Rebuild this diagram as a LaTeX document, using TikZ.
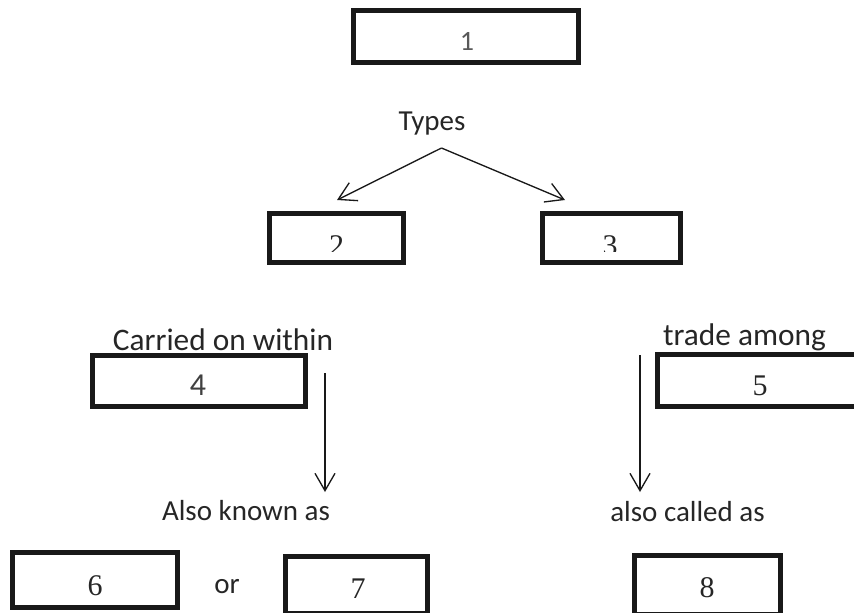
\documentclass[tikz,border=0pt]{standalone}
\usepackage{fontspec}
\setmainfont{Carlito}
\newfontfamily\serifnum{Liberation Serif}
\usetikzlibrary{arrows.meta}
\tikzset{
  box/.style={draw=black!90, line width=3.75pt, rectangle, inner sep=0pt},
  lbl/.style={anchor=base, inner sep=0pt, text=black!85, font=\fontsize{21.75}{24}\selectfont},
  toplbl/.style={lbl, font=\fontsize{23.5}{26}\selectfont},
  dig/.style={anchor=base, inner sep=0pt, text=black!85, font=\serifnum\fontsize{22.5}{24}\selectfont},
  sdig/.style={anchor=base, inner sep=0pt, text=black!75, font=\fontsize{24}{26}\selectfont},
  arr/.style={line width=1pt, draw=black!90, -{Straight Barb[length=13pt,width=15pt,line width=1pt]}}
}
\begin{document}
\begin{tikzpicture}[x=0.75pt,y=-0.75pt]
\useasboundingbox (0,0) rectangle (854,612);

% boxes
\node[box, minimum width=168.75pt, minimum height=39pt]   (b1) at (465.5,36.5) {};
\node[box, minimum width=100.5pt,  minimum height=36.75pt] (b2) at (336.5,238) {};
\node[box, minimum width=103.5pt,  minimum height=36.75pt] (b3) at (611.5,238) {};
\node[box, minimum width=159.75pt, minimum height=38.25pt] (b4) at (199,381) {};
\node[box, minimum width=151.9pt,  minimum height=39pt]    (b5) at (758.75,380.5) {};
\node[box, minimum width=123.75pt, minimum height=41.25pt] (b6) at (95,580) {};
\node[box, minimum width=106.5pt,  minimum height=43.1pt]  (b7) at (356.5,585.25) {};
\node[box, minimum width=109.5pt,  minimum height=43.9pt]  (b8) at (707.5,584.75) {};

% box contents
\node[anchor=base, inner sep=0pt, text=black!65, font=\fontsize{21}{24}\selectfont] (n1) at (467,50) {1};
\begin{scope}
  \clip (250,200) rectangle (700,251.5);
  \node[dig] (n2) at (336.7,255) {2};
  \node[dig] (n3) at (610,255) {3};
\end{scope}
\node[sdig] (n4) at (198,395) {4};
\node[dig] (n5) at (760,395) {5};
\node[dig] (n6) at (95,595) {6};
\node[dig] (n7) at (358,598) {7};
\node[dig] (n8) at (707,597) {8};

% labels
\node[lbl] (types) at (432,130) {Types};
\node[toplbl] (carried) at (223,350) {Carried on within};
\node[toplbl] (trade) at (744.5,345) {trade among};
\node[lbl] (known) at (246,520) {Also known as};
\node[lbl] (called) at (687.5,521) {also called as};
\node[lbl] (or) at (227,593) {or};

% arrows
\coordinate (apex) at (441.5,148);
\coordinate (t2) at (337,200);
\coordinate (t3) at (565,200);
\draw[arr] (apex) -- (t2);
\draw[arr] (apex) -- (t3);

\coordinate (s4) at (325,373);
\coordinate (e4) at (325,492);
\draw[arr] (s4) -- (e4);
\coordinate (s5) at (640,355);
\coordinate (e5) at (640,492);
\draw[arr] (s5) -- (e5);
\end{tikzpicture}
\end{document}
